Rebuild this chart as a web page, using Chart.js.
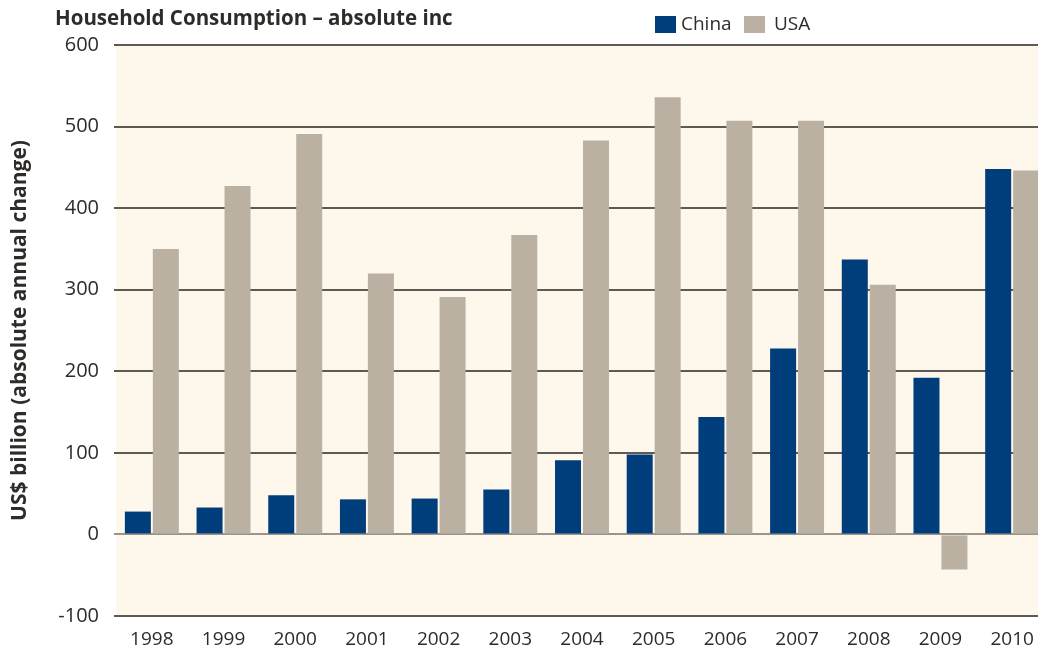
<!DOCTYPE html>
<html>
<head>
<meta charset="utf-8">
<script src="https://cdn.jsdelivr.net/npm/chart.js@4/dist/chart.umd.min.js"></script>
<style>
  html, body { margin: 0; padding: 0; background: #fff; overflow: hidden; }
  #wrap { width: 1048px; height: 650px; }
</style>
</head>
<body>
<div id="wrap"><canvas id="barChart" width="1048" height="650"></canvas></div>
<script>
const years = ['1998', '1999', '2000', '2001', '2002', '2003', '2004', '2005', '2006', '2007', '2008', '2009', '2010'];
const china = [28, 33, 48, 43, 44, 55, 91, 98, 144, 228, 337, 192, 448];
const usa = [350, 427, 491, 320, 291, 367, 483, 536, 507, 507, 306, -43, 446];
const yTicks = [-100, 0, 100, 200, 300, 400, 500, 600];

const chinaColor = '#003d7b';
const usaColor = '#bab1a3';
const textColor = '#2e2b28';
const font = '"Open Sans", "Noto Sans", sans-serif';

// plot background + title + legend drawn by hand
const decor = {
  id: 'decor',
  beforeDraw(chart) {
    const { ctx, chartArea } = chart;
    ctx.save();
    ctx.fillStyle = '#fef7ec';
    ctx.fillRect(chartArea.left, chartArea.top, chartArea.right - chartArea.left, chartArea.bottom - chartArea.top);
    ctx.restore();
  },
  afterDraw(chart) {
    const { ctx } = chart;
    ctx.save();
    ctx.fillStyle = textColor;
    ctx.textBaseline = 'middle';
    ctx.font = 'bold 20.5px ' + font;
    ctx.fillText('Household Consumption \u2013 absolute inc', 55, 19);

    ctx.font = '19px ' + font;
    ctx.fillStyle = chinaColor;
    ctx.fillRect(655, 16, 21, 17);
    ctx.fillStyle = textColor;
    ctx.fillText('China', 681, 25);
    ctx.fillStyle = usaColor;
    ctx.fillRect(744, 16, 21, 17);
    ctx.fillStyle = textColor;
    ctx.fillText('USA', 774, 25);
    ctx.restore();
  }
};

const ctx = document.getElementById('barChart').getContext('2d');
new Chart(ctx, {
  type: 'bar',
  data: {
    labels: years,
    datasets: [
      { label: 'China', data: china, backgroundColor: chinaColor },
      { label: 'USA', data: usa, backgroundColor: usaColor }
    ]
  },
  options: {
    responsive: false,
    animation: false,
    layout: { padding: { top: 45, right: 0, left: 0, bottom: 0 } },
    datasets: { bar: { categoryPercentage: 0.78, barPercentage: 0.93 } },
    plugins: {
      legend: { display: false },
      title: { display: false },
      tooltip: { enabled: false }
    },
    scales: {
      x: {
        grid: { display: false },
        border: { display: false },
        ticks: { color: textColor, font: { family: font, size: 19 }, padding: 4, maxRotation: 0 },
        afterFit(scale) { scale.height = 34; }
      },
      y: {
        min: -100,
        max: 600,
        afterBuildTicks(scale) { scale.ticks = yTicks.map((v) => ({ value: v })); },
        grid: {
          color: (c) => (c.tick && c.tick.value === 0 ? '#9a948c' : '#5e5954'),
          lineWidth: 2,
          drawTicks: true,
          tickLength: 2
        },
        border: { display: false },
        ticks: { color: textColor, font: { family: font, size: 20 }, padding: 15 },
        title: {
          display: true,
          text: 'US$ billion (absolute annual change)',
          color: textColor,
          font: { family: font, size: 21, weight: 'bold' },
          padding: { top: 7, bottom: 0 }
        },
        afterFit(scale) { scale.width = 116; }
      }
    }
  },
  plugins: [decor]
});
</script>
</body>
</html>
